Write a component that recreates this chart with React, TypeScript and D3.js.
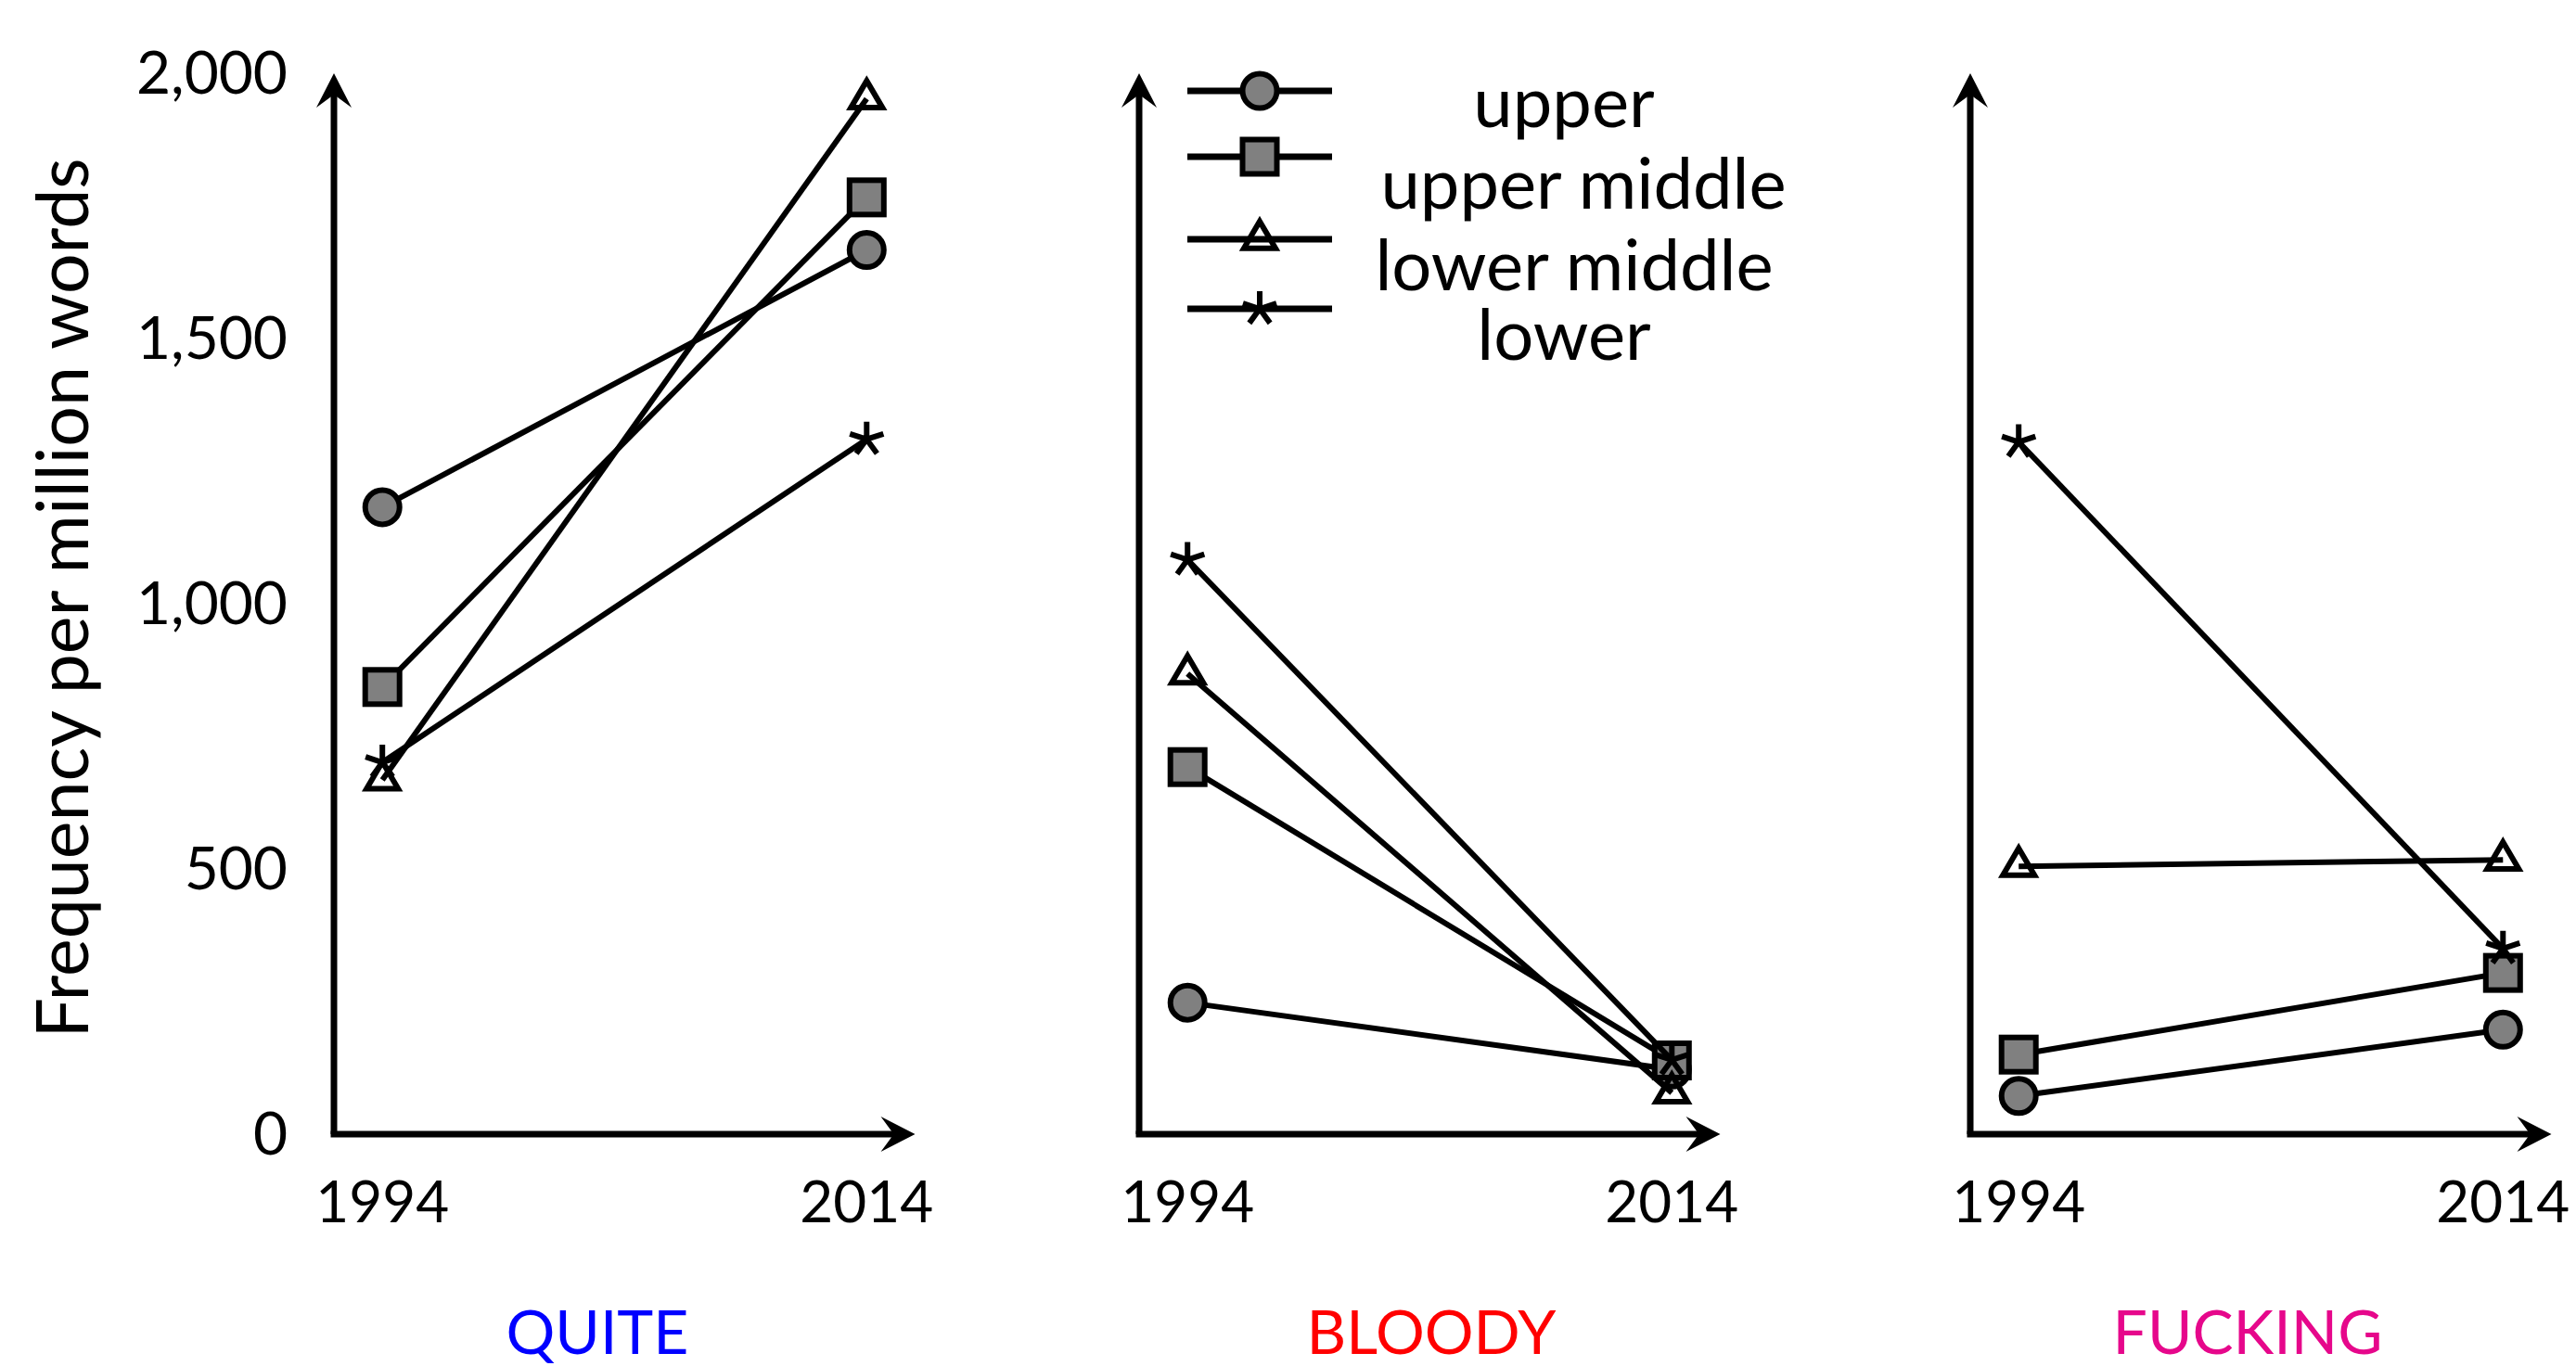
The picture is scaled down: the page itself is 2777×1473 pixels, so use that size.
import React from "react";
import * as d3 from "d3";

const years = [1994, 2014];
const classes = ["upper", "upper middle", "lower middle", "lower"];
const words = ["QUITE", "BLOODY", "FUCKING"];
const wordColors = ["#0000ff", "#ff0000", "#e6078b"];

const quiteUpper = [1182, 1667];
const quiteUpperMiddle = [843, 1766];
const quiteLowerMiddle = [668, 1952];
const quiteLower = [701, 1310];

const bloodyUpper = [248, 122];
const bloodyUpperMiddle = [692, 139];
const bloodyLowerMiddle = [868, 78];
const bloodyLower = [1083, 140];

const fuckingUpper = [72, 197];
const fuckingUpperMiddle = [150, 304];
const fuckingLowerMiddle = [505, 517];
const fuckingLower = [1305, 350];

const yTicks = [0, 500, 1000, 1500, 2000];
const yLabel = "Frequency per million words";

const panelData = [
  [quiteUpper, quiteUpperMiddle, quiteLowerMiddle, quiteLower],
  [bloodyUpper, bloodyUpperMiddle, bloodyLowerMiddle, bloodyLower],
  [fuckingUpper, fuckingUpperMiddle, fuckingLowerMiddle, fuckingLower],
];
const markerKinds = ["circle", "square", "triangle", "star"];

// layout
const W = 2777;
const H = 1473;
const FONT = "Lato, 'Open Sans', sans-serif";
const panelLeft = [360, 1228, 2124];
const panelWidth = 626.5;
const titleCenterX = [644, 1543, 2423];
const yBottom = 1223;
const yTop = 79;
const GRAY = "#808080";

const y = d3.scaleLinear().domain([0, 2000]).range([yBottom, yTop]);

function Marker({ kind, cx, cy }: { kind: string; cx: number; cy: number }) {
  if (kind === "circle") {
    return <circle cx={cx} cy={cy} r={18.5} fill={GRAY} stroke="#000" strokeWidth={6} />;
  }
  if (kind === "square") {
    return <rect x={cx - 18.5} y={cy - 18.5} width={37} height={37} fill={GRAY} stroke="#000" strokeWidth={6} />;
  }
  if (kind === "triangle") {
    const w = 34, h = 29;
    const p = `M${cx},${cy - (2 * h) / 3}L${cx + w / 2},${cy + h / 3}L${cx - w / 2},${cy + h / 3}Z`;
    return <path d={p} fill="none" stroke="#000" strokeWidth={6} strokeLinejoin="miter" />;
  }
  const L = 19;
  const angles = [-90, -18, 54, 126, 198];
  const d = angles
    .map((a) => {
      const r = (a * Math.PI) / 180;
      return `M${cx},${cy}L${cx + L * Math.cos(r)},${cy + L * Math.sin(r)}`;
    })
    .join("");
  return <path d={d} stroke="#000" strokeWidth={6} fill="none" />;
}

function arrowHead(tx: number, ty: number, dir: "up" | "right") {
  const back = 37, notch = 23, half = 19;
  if (dir === "up") {
    return `M${tx},${ty}L${tx + half},${ty + back}L${tx},${ty + notch}L${tx - half},${ty + back}Z`;
  }
  return `M${tx},${ty}L${tx - back},${ty - half}L${tx - notch},${ty}L${tx - back},${ty + half}Z`;
}

function Panel({ index }: { index: number }) {
  const left = panelLeft[index];
  const x = d3.scaleLinear().domain([1992, 2016]).range([left, left + panelWidth]);
  const tipX = x(2016);
  const line = d3
    .line<number>()
    .x((_, i) => x(years[i]))
    .y((v) => y(v));
  return (
    <g>
      {/* axes */}
      <line x1={left} y1={yBottom} x2={left} y2={yTop + 20} stroke="#000" strokeWidth={7} />
      <path d={arrowHead(left, yTop, "up")} fill="#000" />
      <line x1={left - 3.5} y1={yBottom} x2={tipX - 20} y2={yBottom} stroke="#000" strokeWidth={7} />
      <path d={arrowHead(tipX, yBottom, "right")} fill="#000" />
      {/* x tick labels */}
      {years.map((yr) => (
        <text key={yr} x={x(yr)} y={1318} textAnchor="middle" fontFamily={FONT} fontSize={62} fill="#000">
          {yr}
        </text>
      ))}
      {/* series */}
      {panelData[index].map((vals, si) => (
        <g key={si}>
          <path d={line(vals) || ""} fill="none" stroke="#000" strokeWidth={6} />
          {vals.map((v, i) => (
            <Marker key={i} kind={markerKinds[si]} cx={x(years[i])} cy={y(v)} />
          ))}
        </g>
      ))}
      {/* title */}
      <text x={titleCenterX[index]} y={1460} textAnchor="middle" fontFamily={FONT} fontSize={66} fill={wordColors[index]}>
        {words[index]}
      </text>
    </g>
  );
}

const legendLineX = [1280, 1436];
const legendRowY = [98, 169, 258, 333];
const legendTextY = [137, 225, 313, 388];
const legendTextX = [1686, 1707, 1697, 1686];

export default function App() {
  const fmt = d3.format(",");
  return (
    <svg width={W} height={H} style={{ position: "absolute", left: 0, top: 0, background: "#fff" }}>
      <rect width={W} height={H} fill="#fff" />
      {/* y tick labels */}
      {yTicks.map((t) => (
        <text key={t} x={310} y={y(t)} dy="0.35em" textAnchor="end" fontFamily={FONT} fontSize={64} fill="#000">
          {fmt(t)}
        </text>
      ))}
      <text
        transform={`translate(95,${645}) rotate(-90)`}
        textAnchor="middle"
        fontFamily={FONT}
        fontSize={77}
        fill="#000"
      >
        {yLabel}
      </text>
      {words.map((_, i) => (
        <Panel key={i} index={i} />
      ))}
      {/* legend */}
      {classes.map((c, i) => (
        <g key={c}>
          <line x1={legendLineX[0]} x2={legendLineX[1]} y1={legendRowY[i]} y2={legendRowY[i]} stroke="#000" strokeWidth={7} />
          <Marker kind={markerKinds[i]} cx={(legendLineX[0] + legendLineX[1]) / 2} cy={legendRowY[i]} />
          <text x={legendTextX[i]} y={legendTextY[i]} textAnchor="middle" fontFamily={FONT} fontSize={76} fill="#000">
            {c}
          </text>
        </g>
      ))}
    </svg>
  );
}
